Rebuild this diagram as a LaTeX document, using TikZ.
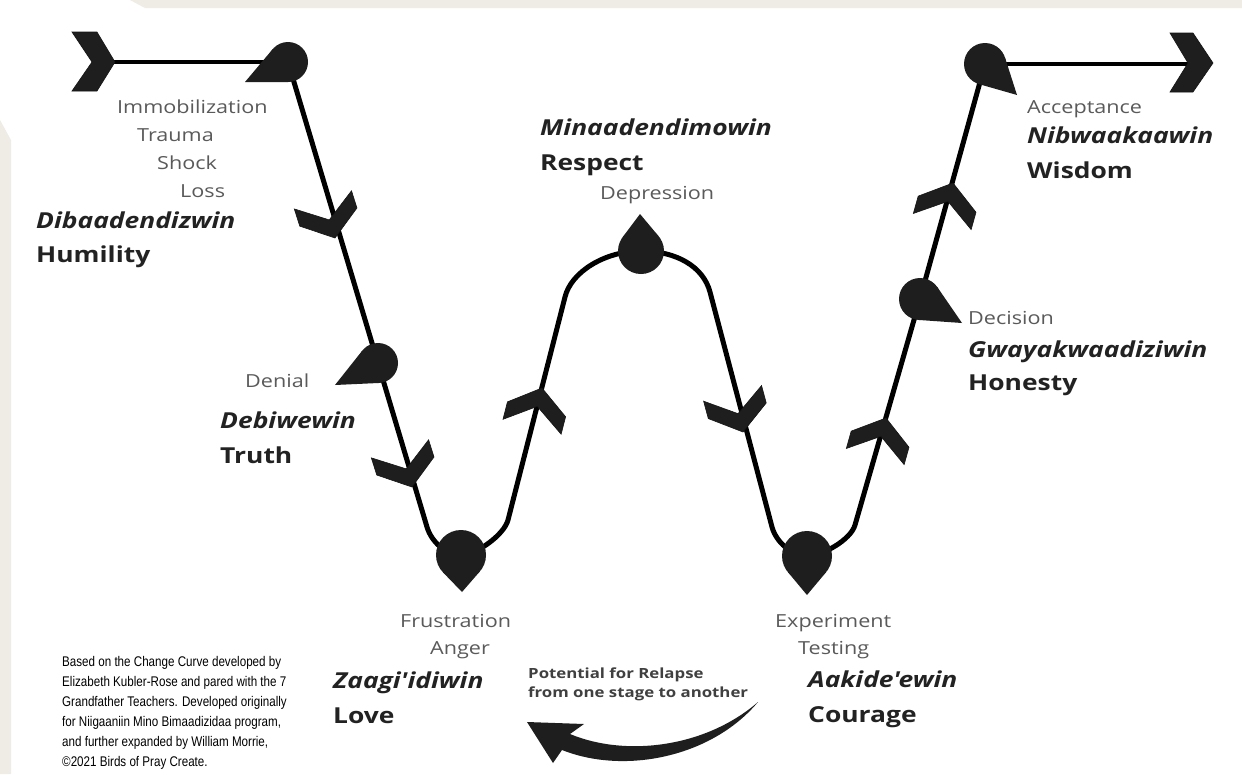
\documentclass[tikz,border=0pt]{standalone}
\usepackage{fontspec}
\usetikzlibrary{calc}
\newfontfamily\os[FakeStretch=1.2]{Open Sans}
\newfontfamily\fnfont[FakeStretch=0.83]{Liberation Sans}
\definecolor{beige}{HTML}{EFECE5}
\definecolor{markc}{HTML}{1E1E1E}
\definecolor{lbl}{HTML}{5A5A5A}
\definecolor{dk}{HTML}{222222}
\pgfdeclarelayer{bg}
\pgfdeclarelayer{lines}
\pgfsetlayers{bg,lines,main}
\tikzset{
  curve/.style={line width=5pt, black, line join=round},
  endline/.style={line width=4pt, black},
  stage/.style={anchor=base west, inner sep=0pt, font=\os\fontsize{18}{20}\selectfont, text=lbl},
  native/.style={anchor=base west, inner sep=0pt, font=\os\bfseries\itshape\fontsize{22}{24}\selectfont, text=dk},
  virtue/.style={anchor=base west, inner sep=0pt, font=\os\bfseries\fontsize{22}{24}\selectfont, text=dk},
  relapse/.style={anchor=base west, inner sep=0pt, font=\os\bfseries\fontsize{14}{16}\selectfont, text=black!75},
  note/.style={anchor=base west, inner sep=0pt, font=\fnfont\fontsize{14}{16}\selectfont, text=black},
  chev/.style={fill=markc, draw=markc!70!black, line width=0.6pt, line join=miter},
  dropnode/.style={circle, fill=markc, inner sep=0pt, outer sep=0pt},
}
\newcommand\dropmark[4]{%
  \node[dropnode, minimum size=#3] (#1) at (#2) {};
  \coordinate (#1-tip) at (#4);
  \fill[markc] (#1-tip) -- (tangent cs:node=#1,point={(#1-tip)},solution=1) -- (#1.center) -- (tangent cs:node=#1,point={(#1-tip)},solution=2) -- cycle;
}
\newcommand\midchev[2]{%
  \begin{scope}[shift={(#1)}, rotate=#2]
    \filldraw[chev] (0,0) -- (-22,-30) -- (-40,-30) -- (-19,0) -- (-40,30) -- (-22,30) -- cycle;
  \end{scope}
}
\begin{document}
\begin{tikzpicture}[x=1pt,y=-1pt]
\useasboundingbox (0,0) rectangle (1242,774);
\begin{pgfonlayer}{bg}
  \fill[white] (0,0) rectangle (1242,774);
  \fill[beige] (130,0) -- (1242,0) -- (1242,8) -- (145,8) -- cycle;
  \fill[beige] (0,120) -- (11,140) -- (11,774) -- (0,774) -- cycle;
\end{pgfonlayer}

% markers
\dropmark{m1}{288,62}{40pt}{245,82}
\dropmark{m2}{378,363}{40pt}{335,385}
\dropmark{m3}{461,555}{50pt}{462,592}
\dropmark{m5}{641,251}{46pt}{640,214}
\dropmark{m6}{807,556}{50pt}{807,595}
\dropmark{m7}{920,299}{42pt}{962,323}
\dropmark{m8}{985,64}{42pt}{1017,95}

% end chevrons
\coordinate (lc) at (115,62);
\coordinate (rc) at (1213,63);
\coordinate (lcn) at (92,62);
\coordinate (rcn) at (1188,63);
\begin{scope}[shift={(lc)}]
  \filldraw[chev] (0,0) -- (-18,-30) -- (-43,-30) -- (-23,0) -- (-43,29) -- (-18,29) -- cycle;
\end{scope}
\begin{scope}[shift={(rc)}]
  \filldraw[chev] (0,0) -- (-20,-30) -- (-43,-30) -- (-25,0) -- (-43,29) -- (-20,29) -- cycle;
\end{scope}

% joints of the curve
\coordinate (a1) at (427,527);
\coordinate (a2) at (508,520);
\coordinate (a3) at (565,297);
\coordinate (a4) at (710,292);
\coordinate (a5) at (772,527);
\coordinate (a6) at (855,525);

\begin{pgfonlayer}{lines}
  \draw[endline] (lcn) -- (m1.center);
  \draw[endline] (m8.center) -- (rcn |- m8.center);
  \draw[curve] (m1.center) -- (a1)
    .. controls (431.5,542) and (446,555) .. (m3.center)
    .. controls (476,555) and (504,535) .. (a2)
    -- (a3)
    .. controls (571,272) and (605,251) .. (m5.center)
    .. controls (677,251) and (703.4,267) .. (a4)
    -- (a5)
    .. controls (776,542) and (792,556) .. (m6.center)
    .. controls (822,556) and (850.7,540) .. (a6)
    -- (m7.center) -- (m8.center);
\end{pgfonlayer}

% chevrons along the curve
\midchev{335,238}{-72.4}
\midchev{412,487}{-72.5}
\midchev{542,388}{75.6}
\midchev{743,432}{-74.9}
\midchev{886,418}{74.4}
\midchev{953,183}{74.4}

% labels
\node[stage] (t1a) at (117,113) {Immobilization};
\node[stage] (t1b) at (137,141) {Trauma};
\node[stage] (t1c) at (157,169) {Shock};
\node[stage] (t1d) at (180,197) {Loss};
\node[native] (n1) at (36,228) {Dibaadendizwin};
\node[virtue] (v1) at (36,262) {Humility};

\node[stage] (t2) at (245,387) {Denial};
\node[native] (n2) at (220,428) {Debiwewin};
\node[virtue] (v2) at (220,463) {Truth};

\node[stage] (t3a) at (400,627) {Frustration};
\node[stage] (t3b) at (430,654) {Anger};
\node[native] (n3) at (333,688) {Zaagi'idiwin};
\node[virtue] (v3) at (333,723) {Love};

\node[stage] (t4) at (600,199) {Depression};
\node[native] (n4) at (540,135) {Minaadendimowin};
\node[virtue] (v4) at (540,170) {Respect};

\node[stage] (t5a) at (775,627) {Experiment};
\node[stage] (t5b) at (798,654) {Testing};
\node[native] (n5) at (808,687) {Aakide'ewin};
\node[virtue] (v5) at (808,722) {Courage};

\node[stage] (t6) at (968,324) {Decision};
\node[native] (n6) at (968,357) {Gwayakwaadiziwin};
\node[virtue] (v6) at (968,390) {Honesty};

\node[stage] (t7) at (1027,113) {Acceptance};
\node[native] (n7) at (1027,143) {Nibwaakaawin};
\node[virtue] (v7) at (1027,178) {Wisdom};

\node[relapse] (r1) at (528,678) {Potential for Relapse};
\node[relapse] (r2) at (528,697) {from one stage to another};

% relapse arrow
\fill[markc] (527,722) -- (584,724) -- (570,734)
  .. controls (625,757) and (705,748) .. (758,702)
  .. controls (712,757) and (625,775) .. (562,750)
  -- (553,763) -- cycle;

% footnote
\node[note] (f1) at (62,666) {Based on the Change Curve developed by};
\node[note] (f2) at (62,686) {Elizabeth Kubler-Rose and pared with the 7};
\node[note] (f3) at (62,706) {Grandfather Teachers. Developed originally};
\node[note] (f4) at (62,726) {for Niigaaniin Mino Bimaadizidaa program,};
\node[note] (f5) at (62,746) {and further expanded by William Morrie,};
\node[note] (f6) at (62,766) {©2021 Birds of Pray Create.};
\end{tikzpicture}
\end{document}
